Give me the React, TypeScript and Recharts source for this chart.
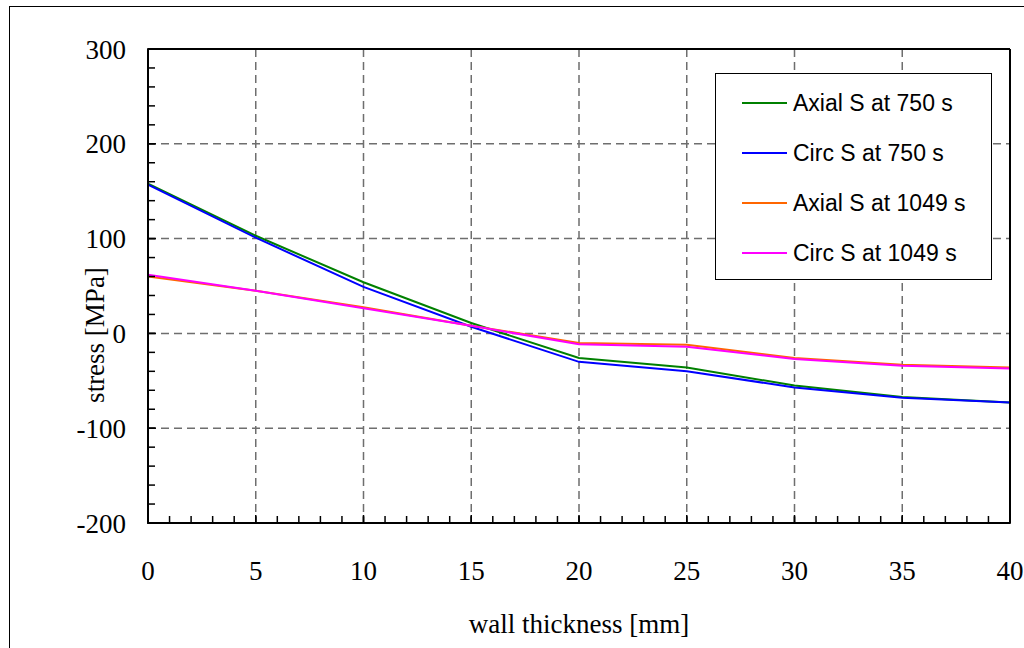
import { LineChart, Line, XAxis, YAxis, CartesianGrid, Legend } from "recharts";

const thickness = [0, 5, 10, 15, 20, 25, 30, 35, 40];
const axial750 = [158, 103, 54, 11, -26, -36, -55, -67, -73];
const circ750 = [157, 101, 49, 7, -30, -40, -57, -68, -73];
const axial1049 = [60, 45, 27.5, 8, -10, -12, -26, -33, -36];
const circ1049 = [62, 45, 26.5, 8, -11.5, -14, -27, -34, -37];

const xTicks = [0, 5, 10, 15, 20, 25, 30, 35, 40];
const xMinorTicks = [
  0, 1, 2, 3, 4, 5, 6, 7, 8, 9, 10, 11, 12, 13, 14, 15, 16, 17, 18, 19, 20,
  21, 22, 23, 24, 25, 26, 27, 28, 29, 30, 31, 32, 33, 34, 35, 36, 37, 38, 39, 40,
];
const yTicks = [-200, -100, 0, 100, 200, 300];
const yMinorTicks = [
  -200, -180, -160, -140, -120, -100, -80, -60, -40, -20, 0, 20, 40, 60, 80, 100,
  120, 140, 160, 180, 200, 220, 240, 260, 280, 300,
];

const seriesKeys = ["a750", "c750", "a1049", "c1049"];
const seriesNames = ["Axial S at 750 s", "Circ S at 750 s", "Axial S at 1049 s", "Circ S at 1049 s"];
const seriesColors = ["#008000", "#0000ff", "#ff6600", "#ff00ff"];

const data = thickness.map((t, i) => ({
  t,
  a750: axial750[i],
  c750: circ750[i],
  a1049: axial1049[i],
  c1049: circ1049[i],
}));

const serif = "'Liberation Serif', 'Times New Roman', serif";
const sans = "'Liberation Sans', Arial, sans-serif";
const tickFont = { fill: "#000", fontSize: 27, fontFamily: serif };

// minor axes: keep the tick marks, draw no label
const NoLabel = () => <g />;

function LegendBox({ payload }: any) {
  const items = [...(payload || [])].sort(
    (a: any, b: any) => seriesNames.indexOf(a.value) - seriesNames.indexOf(b.value)
  );
  return (
    <div style={{ position: "relative", width: "100%", height: "100%" }}>
      {items.map((p: any, i: number) => (
        <div
          key={p.value}
          style={{
            position: "absolute",
            left: 0,
            top: 4 + i * 50,
            height: 50,
            display: "flex",
            alignItems: "center",
          }}
        >
          <div style={{ marginLeft: 26, width: 45, height: 2, background: p.color }} />
          <span style={{ marginLeft: 6, fontFamily: sans, fontSize: 23, color: "#000", whiteSpace: "nowrap" }}>
            {p.value}
          </span>
        </div>
      ))}
    </div>
  );
}

export default function App() {
  return (
    <div style={{ position: "absolute", left: 0, top: 0, width: 1024, height: 648, overflow: "hidden", background: "#fff" }}>
      <div
        style={{
          position: "absolute",
          left: 8.5,
          top: 6,
          width: 1100,
          height: 700,
          border: "1.5px solid #000",
        }}
      />
      <div style={{ position: "absolute", left: 0, top: 0 }}>
        <LineChart width={1024} height={648} data={data} margin={{ top: 48, left: 146, right: 13, bottom: 123 }}>
          <CartesianGrid stroke="#6e6e6e" strokeWidth={1.5} strokeDasharray="8 5" />
          <XAxis
            xAxisId="minor"
            dataKey="t"
            type="number"
            domain={[0, 40]}
            allowDataOverflow
            ticks={xMinorTicks}
            interval={0}
            height={1}
            tickSize={-8}
            tick={NoLabel}
            axisLine={false}
            tickLine={{ stroke: "#000", strokeWidth: 1.5 }}
          />
          <XAxis
            dataKey="t"
            type="number"
            domain={[0, 40]}
            allowDataOverflow
            ticks={xTicks}
            interval={0}
            height={1}
            tickSize={-8}
            tickMargin={46}
            tick={tickFont}
            axisLine={{ stroke: "#000", strokeWidth: 2 }}
            tickLine={{ stroke: "#000", strokeWidth: 1.5 }}
            label={{
              content: ({ viewBox }: any) => (
                <text x={viewBox.x + viewBox.width / 2} y={633} textAnchor="middle" fontSize={27} fontFamily={serif} fill="#000">
                  wall thickness [mm]
                </text>
              ),
            }}
          />
          <XAxis
            xAxisId="top"
            dataKey="t"
            orientation="top"
            type="number"
            domain={[0, 40]}
            allowDataOverflow
            height={1}
            tick={false}
            tickLine={false}
            axisLine={{ stroke: "#000", strokeWidth: 2 }}
          />
          <YAxis
            type="number"
            domain={[-200, 300]}
            allowDataOverflow
            ticks={yTicks}
            interval={0}
            width={1}
            tickSize={-8}
            tickMargin={30}
            tick={tickFont}
            axisLine={{ stroke: "#000", strokeWidth: 2 }}
            tickLine={{ stroke: "#000", strokeWidth: 1.5 }}
            label={{
              content: ({ viewBox }: any) => {
                const x = viewBox.x - 43;
                const y = viewBox.y + viewBox.height / 2 + 49;
                return (
                  <text x={x} y={y} transform={`rotate(-90, ${x}, ${y})`} textAnchor="middle" fontSize={27} fontFamily={serif} fill="#000">
                    stress [MPa]
                  </text>
                );
              },
            }}
          />
          <YAxis
            yAxisId="minor"
            type="number"
            domain={[-200, 300]}
            allowDataOverflow
            ticks={yMinorTicks}
            interval={0}
            width={1}
            tickSize={-8}
            tick={NoLabel}
            axisLine={false}
            tickLine={{ stroke: "#000", strokeWidth: 1.5 }}
          />
          <YAxis
            yAxisId="right"
            orientation="right"
            type="number"
            domain={[-200, 300]}
            allowDataOverflow
            width={1}
            tick={false}
            tickLine={false}
            axisLine={{ stroke: "#000", strokeWidth: 2 }}
          />
          {seriesKeys.map((k, i) => (
            <Line
              key={k}
              dataKey={k}
              name={seriesNames[i]}
              stroke={seriesColors[i]}
              strokeWidth={2}
              dot={false}
              activeDot={false}
              isAnimationActive={false}
            />
          ))}
          <Legend
            layout="vertical"
            align="center"
            verticalAlign="middle"
            content={<LegendBox />}
            wrapperStyle={{
              left: 715,
              top: 73,
              width: 277,
              height: 207,
              border: "1.5px solid #000",
              background: "#fff",
              boxSizing: "border-box",
            }}
          />
        </LineChart>
      </div>
    </div>
  );
}
